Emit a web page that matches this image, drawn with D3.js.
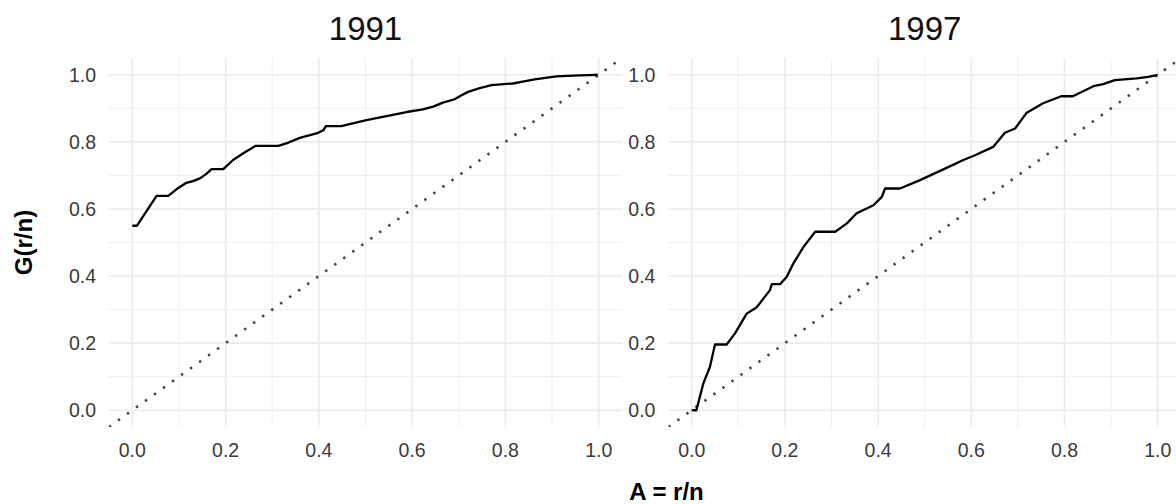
<!DOCTYPE html>
<html>
<head>
<meta charset="utf-8">
<script src="https://cdn.jsdelivr.net/npm/d3@7"></script>
<style>
  html, body { margin: 0; padding: 0; background: #fff; }
  svg { display: block; font-family: "Liberation Sans", Arial, sans-serif; }
</style>
</head>
<body>
<svg id="chart" width="1176" height="504"></svg>
<script>
// ---- data ----
const panels = ["1991", "1997"];
const a1991 = [0.0, 0.01, 0.052, 0.077, 0.096, 0.116, 0.13, 0.145, 0.158, 0.17, 0.195, 0.216, 0.238, 0.264, 0.313, 0.335, 0.359, 0.395, 0.41, 0.415, 0.448, 0.475, 0.502, 0.545, 0.588, 0.623, 0.645, 0.666, 0.691, 0.705, 0.72, 0.745, 0.77, 0.816, 0.84, 0.863, 0.909, 0.959, 0.98, 0.998];
const g1991 = [0.55, 0.55, 0.639, 0.639, 0.66, 0.678, 0.683, 0.691, 0.704, 0.719, 0.719, 0.746, 0.766, 0.788, 0.788, 0.798, 0.812, 0.825, 0.835, 0.847, 0.847, 0.856, 0.865, 0.877, 0.889, 0.897, 0.905, 0.917, 0.927, 0.938, 0.949, 0.96, 0.969, 0.974, 0.98, 0.986, 0.995, 0.998, 0.999, 1.0];
const a1997 = [0.0, 0.01, 0.025, 0.039, 0.05, 0.075, 0.093, 0.118, 0.139, 0.168, 0.172, 0.19, 0.204, 0.218, 0.24, 0.265, 0.308, 0.333, 0.354, 0.39, 0.408, 0.415, 0.447, 0.49, 0.54, 0.583, 0.608, 0.647, 0.672, 0.694, 0.719, 0.754, 0.793, 0.818, 0.862, 0.883, 0.908, 0.955, 0.98, 1.0];
const g1997 = [0.0, 0.0, 0.08, 0.129, 0.196, 0.196, 0.229, 0.288, 0.306, 0.358, 0.376, 0.376, 0.398, 0.437, 0.487, 0.532, 0.532, 0.557, 0.587, 0.611, 0.636, 0.661, 0.661, 0.686, 0.718, 0.746, 0.76, 0.785, 0.827, 0.84, 0.887, 0.915, 0.936, 0.936, 0.966, 0.972, 0.984, 0.989, 0.994, 1.0];
const majorTicks = [0, 0.2, 0.4, 0.6, 0.8, 1.0];
const minorTicks = [0.1, 0.3, 0.5, 0.7, 0.9];
const tickLabels = ["0.0", "0.2", "0.4", "0.6", "0.8", "1.0"];
const diagonal = [-0.05, 1.05];
const xTitle = "A = r/n";
const yTitle = "G(r/n)";

const series = [
  { name: panels[0], a: a1991, g: g1991 },
  { name: panels[1], a: a1997, g: g1997 }
];

// ---- layout ----
const svg = d3.select("#chart");
const panelBoxes = [
  { left: 109, right: 622 },
  { left: 668.4, right: 1181 }
];
const pTop = 58, pBottom = 427;

const y = d3.scaleLinear().domain([-0.05, 1.05]).range([pBottom, pTop]);

const defs = svg.append("defs");

series.forEach((s, i) => {
  const box = panelBoxes[i];
  const x = d3.scaleLinear().domain([-0.05, 1.05]).range([box.left, box.right]);
  const g = svg.append("g");

  defs.append("clipPath").attr("id", "clip" + i)
    .append("rect").attr("x", box.left).attr("y", pTop)
    .attr("width", box.right - box.left).attr("height", pBottom - pTop);

  // minor grid
  g.selectAll(".vminor").data(minorTicks).join("line")
    .attr("x1", d => x(d)).attr("x2", d => x(d)).attr("y1", pTop).attr("y2", pBottom)
    .attr("stroke", "#ebebeb").attr("stroke-width", 0.8);
  g.selectAll(".hminor").data(minorTicks).join("line")
    .attr("x1", box.left).attr("x2", box.right).attr("y1", d => y(d)).attr("y2", d => y(d))
    .attr("stroke", "#ebebeb").attr("stroke-width", 0.8);
  // major grid
  g.selectAll(".vmajor").data(majorTicks).join("line")
    .attr("x1", d => x(d)).attr("x2", d => x(d)).attr("y1", pTop).attr("y2", pBottom)
    .attr("stroke", "#ebebeb").attr("stroke-width", 1.6);
  g.selectAll(".hmajor").data(majorTicks).join("line")
    .attr("x1", box.left).attr("x2", box.right).attr("y1", d => y(d)).attr("y2", d => y(d))
    .attr("stroke", "#ebebeb").attr("stroke-width", 1.6);

  // diagonal
  g.append("line")
    .attr("clip-path", "url(#clip" + i + ")")
    .attr("x1", x(diagonal[0])).attr("y1", y(diagonal[0]))
    .attr("x2", x(diagonal[1])).attr("y2", y(diagonal[1]))
    .attr("stroke", "#444").attr("stroke-width", 2.6)
    .attr("stroke-dasharray", "2.4 8.7");

  // curve
  const pts = s.a.map((v, k) => [v, s.g[k]]);
  g.append("path").datum(pts)
    .attr("fill", "none").attr("stroke", "#000").attr("stroke-width", 2.3)
    .attr("stroke-linejoin", "round")
    .attr("d", d3.line().x(d => x(d[0])).y(d => y(d[1])));

  // x tick labels
  g.selectAll(".xt").data(majorTicks).join("text")
    .attr("x", d => x(d)).attr("y", 456.5)
    .attr("text-anchor", "middle").attr("font-size", 19.5).attr("fill", "#3a3a3a")
    .text((d, k) => tickLabels[k]);
  // y tick labels
  g.selectAll(".yt").data(majorTicks).join("text")
    .attr("x", box.left - 13).attr("y", d => y(d)).attr("dy", "0.36em")
    .attr("text-anchor", "end").attr("font-size", 19.5).attr("fill", "#3a3a3a")
    .text((d, k) => tickLabels[k]);

  // strip title
  g.append("text")
    .attr("x", (box.left + box.right) / 2).attr("y", 40)
    .attr("text-anchor", "middle").attr("font-size", 33).attr("fill", "#111")
    .text(s.name);
});

// axis titles
svg.append("text")
  .attr("x", 666.5).attr("y", 500)
  .attr("text-anchor", "middle").attr("font-size", 24).attr("font-weight", "bold").attr("fill", "#000")
  .text(xTitle);
svg.append("text")
  .attr("transform", "translate(31.5," + ((pTop + pBottom) / 2) + ") rotate(-90)")
  .attr("text-anchor", "middle").attr("font-size", 24).attr("font-weight", "bold").attr("fill", "#000")
  .text(yTitle);
</script>
</body>
</html>
